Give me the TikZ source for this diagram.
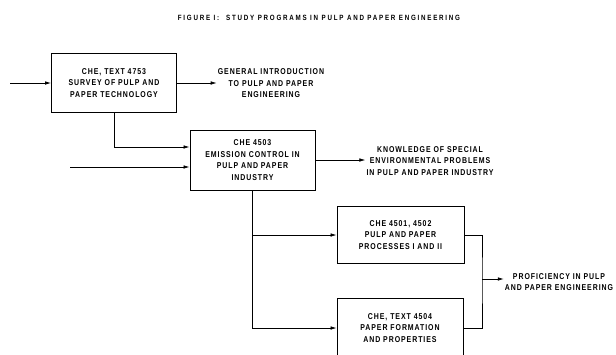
\documentclass[tikz,border=0pt]{standalone}
\usepackage{fontspec}
\setmainfont{Liberation Sans}[FakeStretch=0.82,LetterSpace=11]
\newfontfamily\titlefont{Liberation Sans}[FakeStretch=0.82,LetterSpace=23]
\usetikzlibrary{arrows.meta}
\begin{document}
\begin{tikzpicture}[x=1pt,y=-1pt,
  every node/.style={font=\bfseries\fontsize{8.5}{11.5}\selectfont, align=center, inner sep=1pt},
  boxstyle/.style={draw, line width=0.9pt, minimum width=125pt, minimum height=59pt, inner sep=0pt},
  conn/.style={line width=0.7pt},
  arr/.style={conn, -{Latex[length=6pt,width=3.6pt]}},
  titlestyle/.style={font=\titlefont\bfseries\fontsize{7.6}{9}\selectfont}]
\useasboundingbox (0,0) rectangle (616,354);
\clip (0,0) rectangle (616,354);
\node[titlestyle] (title) at (319,18) {FIGURE I:\ \ STUDY PROGRAMS IN PULP AND PAPER ENGINEERING};

\node[boxstyle] (b1) at (114,83) {CHE, TEXT 4753\\SURVEY OF PULP AND\\PAPER TECHNOLOGY};
\node (l1) at (271,83.5) {GENERAL INTRODUCTION\\TO PULP AND PAPER\\ENGINEERING};

\node[boxstyle, minimum height=60pt] (b2) at (252.5,160) {CHE 4503\\EMISSION CONTROL IN\\PULP AND PAPER\\INDUSTRY};
\node (l2) at (430,161) {KNOWLEDGE OF SPECIAL\\ENVIRONMENTAL PROBLEMS\\IN PULP AND PAPER INDUSTRY};

\node[boxstyle, minimum width=127pt, minimum height=57pt] (b3) at (400.5,235) {CHE 4501, 4502\\PULP AND PAPER\\PROCESSES I AND II};
\node[boxstyle, minimum width=126pt, minimum height=60pt] (b4) at (400,328) {CHE, TEXT 4504\\PAPER FORMATION\\AND PROPERTIES};
\node (l3) at (559,282) {PROFICIENCY IN PULP\\AND PAPER ENGINEERING};

\coordinate (in1) at (10,83);
\coordinate (in2) at (70,167);
\coordinate (j1) at (189.5,147);
\coordinate (j2) at (189.5,167);
\coordinate (m) at (482,279);

\draw[arr] (in1) -- (b1.west);
\draw[arr] (b1.east) -- (l1.west |- b1.east);
\draw[arr] (b1.south) |- (j1);
\draw[arr] (in2) -- (j2);
\draw[arr] (b2.east) -- (l2.west |- b2.east);
\draw[arr] (b2.south) |- (b3.west);
\draw[arr] (b2.south) |- (b4.west);
\draw[conn] (b3.east) -| (m) |- (b4.east);
\draw[arr] (m) -- (l3.west |- m);
\end{tikzpicture}
\end{document}
